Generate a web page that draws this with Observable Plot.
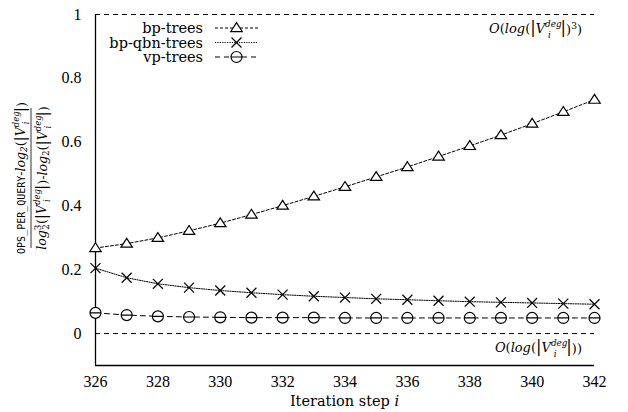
<!DOCTYPE html>
<html><head><meta charset="utf-8">
<script src="https://cdn.jsdelivr.net/npm/d3@7"></script>
<script src="https://cdn.jsdelivr.net/npm/@observablehq/plot@0.6"></script>
<style>body{margin:0;background:#fff} #note{height:0;overflow:hidden;font-family:'Liberation Serif',serif}</style>
</head><body><div id="chart"></div><div id="note"></div>
<script>
const steps = [326,327,328,329,330,331,332,333,334,335,336,337,338,339,340,341,342];
const bpTrees = [0.268,0.282,0.300,0.322,0.346,0.373,0.401,0.430,0.460,0.491,0.522,0.555,0.588,0.622,0.658,0.695,0.733];
const bpQbnTrees = [0.205,0.175,0.156,0.144,0.135,0.128,0.122,0.117,0.113,0.109,0.106,0.103,0.100,0.098,0.096,0.094,0.092];
const vpTrees = [0.065,0.058,0.054,0.052,0.051,0.050,0.050,0.050,0.049,0.049,0.049,0.049,0.049,0.049,0.049,0.049,0.049];
const xTicks = [326,328,330,332,334,336,338,340,342];
const yTicks = [0,0.2,0.4,0.6,0.8,1];
const refLevels = [0,1];
const seriesNames = ["bp-trees","bp-qbn-trees","vp-trees"];

const mk = (vals) => steps.map((s,i)=>({x:s,y:vals[i]}));
const dBp = mk(bpTrees), dQbn = mk(bpQbnTrees), dVp = mk(vpTrees);

const circleMinus = {draw(ctx,size){const r=Math.sqrt(size/Math.PI);ctx.moveTo(r,0);ctx.arc(0,0,r,0,2*Math.PI);ctx.moveTo(-r,0);ctx.lineTo(r,0);}};
const tri = {draw(ctx,size){const r=Math.sqrt(size/Math.PI);const h=r*1.7;const w=r*1.1;ctx.moveTo(0,-h*0.6);ctx.lineTo(w,h*0.4);ctx.lineTo(-w,h*0.4);ctx.closePath();}};
const styles = [
  {dash:"3,2", sym:tri, r:5.2},
  {dash:"1.2,1.2", sym:"times", r:4.6},
  {dash:"5,4", sym:circleMinus, r:5.5}
];
const TICKFONT = "Liberation Serif, serif";
const TEXTFONT = "DejaVu Serif, serif";

const chart = Plot.plot({
  width:628, height:412,
  marginLeft:95, marginRight:34, marginTop:14, marginBottom:47,
  style:{fontFamily:"Liberation Serif", fontSize:"16px"},
  x:{domain:[326,342]},
  y:{domain:[-0.1,1]},
  marks:[
    Plot.ruleY(refLevels,{stroke:"#000", strokeWidth:1, strokeDasharray:"5,4"}),
    Plot.ruleX([326],{y1:-0.1,y2:1,stroke:"#000",strokeWidth:1.3}),
    Plot.ruleY([-0.1],{stroke:"#000",strokeWidth:1.3}),
    Plot.line(dVp,{x:"x",y:"y",stroke:"#000",strokeWidth:1,strokeDasharray:styles[2].dash}),
    Plot.line(dQbn,{x:"x",y:"y",stroke:"#000",strokeWidth:1,strokeDasharray:styles[1].dash}),
    Plot.line(dBp,{x:"x",y:"y",stroke:"#000",strokeWidth:1,strokeDasharray:styles[0].dash}),
    Plot.dot(dVp,{x:"x",y:"y",symbol:styles[2].sym,r:styles[2].r,stroke:"#000",fill:"#fff",strokeWidth:1.2}),
    Plot.dot(dQbn,{x:"x",y:"y",symbol:styles[1].sym,r:styles[1].r,stroke:"#000",strokeWidth:1.2}),
    Plot.dot(dBp,{x:"x",y:"y",symbol:styles[0].sym,r:styles[0].r,stroke:"#000",fill:"#fff",strokeWidth:1.2}),
    Plot.axisX({ticks:xTicks,tickSize:0,tickPadding:10,label:null,fontSize:16,fontFamily:TICKFONT,tickFormat:d=>String(d)}),
    Plot.axisY({ticks:yTicks,tickSize:0,tickPadding:14,label:null,fontSize:16,fontFamily:TICKFONT,tickFormat:d=>String(d)})
  ]
});
document.getElementById("chart").appendChild(chart);

const svg = d3.select(chart);
const X = chart.scale("x"), Y = chart.scale("y");
const txt = (sel) => sel.append("text").attr("font-family",TEXTFONT);

// x label
const xl = txt(svg).attr("x",(X.apply(326)+X.apply(342))/2).attr("y",406)
  .attr("text-anchor","middle").attr("font-size",14.5);
xl.append("tspan").text("Iteration step ");
xl.append("tspan").attr("font-style","italic").text("i");

function vTerm(t, fs){
  t.append("tspan").attr("font-size",fs*1.25).text("|");
  t.append("tspan").attr("font-style","italic").text("V");
  t.append("tspan").attr("font-size",fs*0.68).attr("font-style","italic").attr("dy",-fs*0.45).text("deg");
  t.append("tspan").attr("font-size",fs*0.68).attr("font-style","italic").attr("dx",-fs*1.05).attr("dy",fs*0.8).text("i");
  t.append("tspan").attr("dx",fs*0.75).attr("dy",-fs*0.35).attr("font-size",fs*1.25).text("|");
}
function annot(level, cube){
  const fs=13;
  const t = txt(svg).attr("x",X.apply(342)-12).attr("y",Y.apply(level)+19)
    .attr("text-anchor","end").attr("font-size",fs);
  t.append("tspan").attr("font-style","italic").text("O");
  t.append("tspan").text("(");
  t.append("tspan").attr("font-style","italic").text("log");
  t.append("tspan").text("(");
  vTerm(t,fs);
  t.append("tspan").attr("dy",fs*0.1).text(")");
  if(cube){ t.append("tspan").attr("font-size",fs*0.7).attr("dy",-fs*0.4).text("3"); t.append("tspan").attr("dy",fs*0.4).text(")"); }
  else t.append("tspan").text(")");
}
annot(1,true);
annot(0,false);

// legend
const lg = svg.append("g");
seriesNames.forEach((name,i)=>{
  const yy = 28 + i*14.5;
  txt(lg).attr("x",203).attr("y",yy+5).attr("text-anchor","end")
    .attr("font-size",14.5).text(name);
  lg.append("line").attr("x1",215).attr("x2",258).attr("y1",yy).attr("y2",yy)
    .attr("stroke","#000").attr("stroke-dasharray",styles[i].dash);
  const st = styles[i];
  const symType = st.sym==="times" ? d3.symbolTimes : st.sym;
  lg.append("path").attr("transform",`translate(236.5,${yy})`)
    .attr("d",d3.symbol(symType, Math.PI*st.r*st.r)())
    .attr("stroke","#000").attr("stroke-width",1.2).attr("fill", st.sym==="times"?"none":"#fff");
});

// y label (rotated fraction)
const cy = 178;
const yl = svg.append("g").attr("transform",`translate(0,${cy}) rotate(-90)`);
const FS = 12.5;
const num = txt(yl).attr("x",0).attr("y",25).attr("text-anchor","middle").attr("font-size",FS);
num.append("tspan").attr("font-family","DejaVu Sans Mono, monospace").attr("font-size",10).text("OPS_PER_QUERY");
num.append("tspan").text("-");
num.append("tspan").attr("font-style","italic").text("log");
num.append("tspan").attr("font-size",FS*0.7).attr("font-style","italic").attr("dy",2).text("2");
num.append("tspan").attr("dy",-2).text("(");
vTerm(num,FS);
num.append("tspan").attr("dy",1).text(")");
yl.append("line").attr("x1",-70).attr("x2",70).attr("y1",31).attr("y2",31).attr("stroke","#000").attr("stroke-width",0.8);
const den = txt(yl).attr("x",0).attr("y",46).attr("text-anchor","middle").attr("font-size",FS);
den.append("tspan").attr("font-style","italic").text("log");
den.append("tspan").attr("font-size",FS*0.7).attr("dy",-5).text("3");
den.append("tspan").attr("font-size",FS*0.7).attr("dx",-5).attr("dy",8).text("2");
den.append("tspan").attr("dy",-3).text("(");
vTerm(den,FS);
den.append("tspan").attr("dy",1).text(")-");
den.append("tspan").attr("font-style","italic").text("log");
den.append("tspan").attr("font-size",FS*0.7).attr("dy",2).text("2");
den.append("tspan").attr("dy",-2).text("(");
vTerm(den,FS);
den.append("tspan").attr("dy",1).text(")");
</script></body></html>
